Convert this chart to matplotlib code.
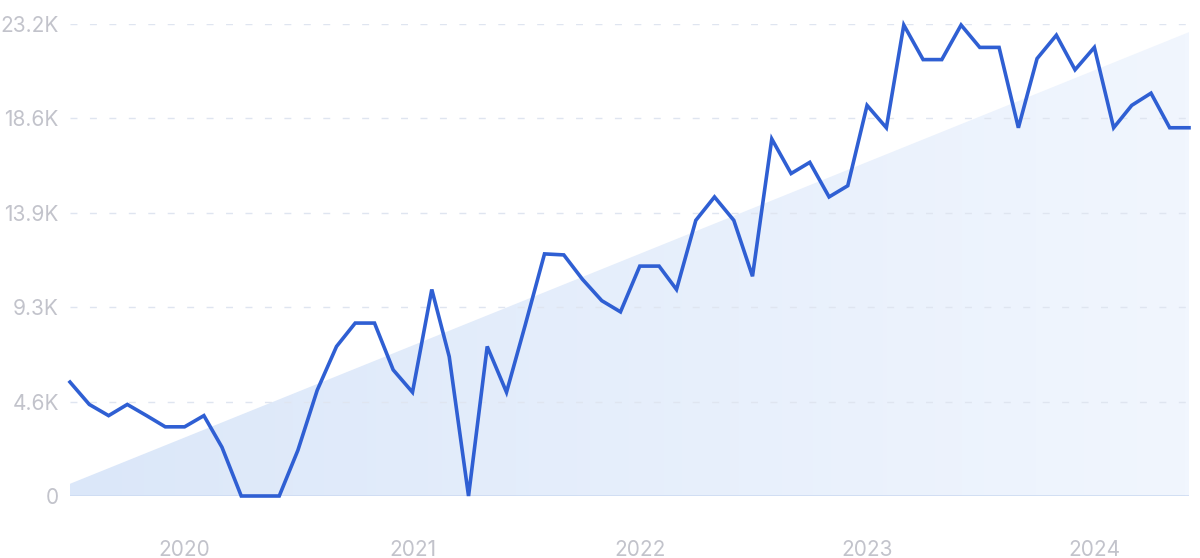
import numpy as np
import pandas as pd
import matplotlib
matplotlib.use("Agg")
from matplotlib import pyplot as plt
import matplotlib.dates as mdates
from matplotlib.colors import LinearSegmentedColormap

# monthly values, Jul 2019 - Jun 2024
months = pd.date_range("2019-07-01", periods=60, freq="MS")
values = [5600, 4500, 3950, 4500, 3950, 3400, 3400, 3950, 2400, 0,
          0, 0, 2250, 5200, 7350, 8500, 8500, 6200, 5100, 10150,
          6850, 0, 7350, 5100, 8400, 11900, 11850, 10650, 9600, 9050,
          11300, 11300, 10150, 13550, 14700, 13550, 10800, 17550, 15850, 16400,
          14700, 15250, 19200, 18100, 23150, 21450, 21450, 23150, 22050, 22050,
          18100, 21500, 22650, 20950, 22050, 18100, 19200, 19800, 18100, 18100]

# trend band (start / end value)
trend = [600, 22800]

yticks = [0, 4640, 9280, 13920, 18560, 23200]
ylabels = ["0", "4.6K", "9.3K", "13.9K", "18.6K", "23.2K"]
years = ["2020", "2021", "2022", "2023", "2024"]

plt.rcParams["font.family"] = ["Inter", "DejaVu Sans"]

fig = plt.figure(figsize=(12, 5.58), dpi=100)
ax = fig.add_axes([70 / 1200, 1 - 496 / 558, 1119 / 1200, 472 / 558])

x = mdates.date2num(months)
x0, x1 = x[0], x[-1]

# gradient-filled trend triangle
cmap = LinearSegmentedColormap.from_list("trend", ["#dbe7f9", "#f1f6fe"])
grad = np.linspace(0, 1, 256).reshape(1, -1)
img = ax.imshow(grad, extent=[x0, x1, 0, yticks[-1]], aspect="auto",
                cmap=cmap, origin="lower", zorder=0)
poly = ax.fill_between([x0, x1], [trend[0], trend[1]], 0, color="none", lw=0)
img.set_clip_path(poly.get_paths()[0], transform=ax.transData)

# grid
for yt in yticks[1:]:
    ax.axhline(yt, color="#dfe5f0", lw=1, dashes=(5, 9), zorder=1)
ax.axhline(0, color="#cddbf2", lw=1.2, zorder=1)

ax.plot(x, values, color="#2f5fd3", lw=2.6, solid_joinstyle="miter",
        zorder=3, clip_on=False)

ax.set_xlim(x0, x1)
ax.set_ylim(0, yticks[-1])
ax.set_yticks(yticks)
ax.set_yticklabels(ylabels)
year_pos = [mdates.date2num(pd.Timestamp(y + "-01-01")) for y in years]
ax.set_xticks(year_pos)
ax.set_xticklabels(years)
ax.tick_params(axis="both", length=0, labelsize=15, labelcolor="#c2c3cb")
ax.tick_params(axis="y", pad=8)
ax.tick_params(axis="x", pad=32)
for s in ax.spines.values():
    s.set_visible(False)

fig.savefig("out.png", dpi=100, facecolor="white")
